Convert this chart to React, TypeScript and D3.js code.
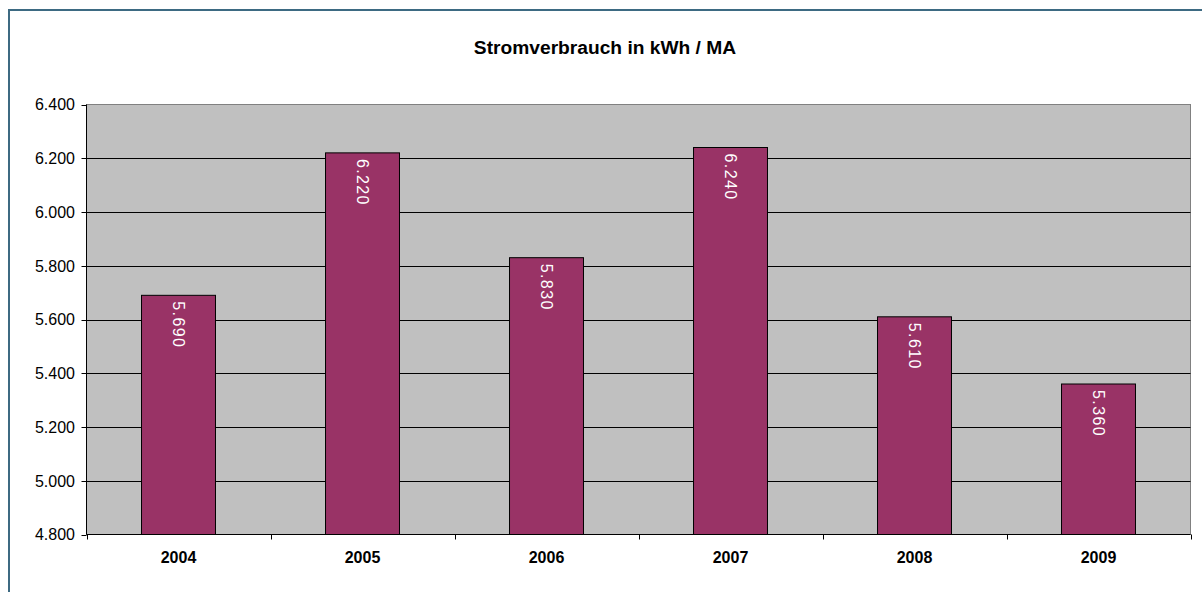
import React from "react";
import * as d3 from "d3";

const years = ["2004", "2005", "2006", "2007", "2008", "2009"];
const values = [5690, 6220, 5830, 6240, 5610, 5360];
const yTicks = [4800, 5000, 5200, 5400, 5600, 5800, 6000, 6200, 6400];
const title = "Stromverbrauch in kWh / MA";

const W = 1202;
const H = 592;
const left = 86.5;
const right = 1190.5;
const top = 104.5;
const bottom = 534.5;
const FONT = "Arial, 'Liberation Sans', sans-serif";

const fmt = (v: number) => {
  const s = String(v);
  return s.slice(0, s.length - 3) + "." + s.slice(s.length - 3);
};

export default function App() {
  const x = d3.scaleBand<string>().domain(years).range([left, right]).paddingInner(0.598).paddingOuter(0.299);
  const y = d3.scaleLinear().domain([4800, 6400]).range([bottom, top]);
  const step = x.step();
  const bounds = d3.range(years.length + 1).map((i) => left + i * step);

  return (
    <svg width={W} height={H} style={{ position: "absolute", left: 0, top: 0, background: "#fff" }}>
      <rect x={9} y={10} width={1300} height={700} fill="#fff" stroke="#3d6a82" strokeWidth={2} />
      <text x={605} y={54} textAnchor="middle" fontFamily={FONT} fontWeight="bold" fontSize={19.2} fill="#000">
        {title}
      </text>
      <rect x={left} y={top} width={right - left} height={bottom - top} fill="#c0c0c0" stroke="#808080" strokeWidth={1} />
      {yTicks.slice(1, -1).map((t) => (
        <line key={t} x1={left} x2={right} y1={Math.round(y(t)) + 0.5} y2={Math.round(y(t)) + 0.5} stroke="#000" strokeWidth={1} />
      ))}
      {years.map((yr, i) => {
        const bx = x(yr)!;
        const by = y(values[i]);
        return (
          <g key={yr}>
            <rect x={bx} y={by} width={x.bandwidth()} height={bottom - by} fill="#993366" stroke="#000" strokeWidth={1} />
            <text
              transform={`translate(${bx + x.bandwidth() / 2},${by + 6}) rotate(90)`}
              dy="0.36em"
              textAnchor="start"
              fontFamily={FONT}
              fontSize={16}
              letterSpacing={1.4}
              fill="#fff"
            >
              {fmt(values[i])}
            </text>
          </g>
        );
      })}
      {/* y axis */}
      <line x1={left} x2={left} y1={top} y2={bottom} stroke="#000" />
      {yTicks.map((t) => (
        <g key={t}>
          <line x1={left - 5} x2={left} y1={Math.round(y(t)) + 0.5} y2={Math.round(y(t)) + 0.5} stroke="#000" />
          <text x={75} y={y(t)} dy="0.36em" textAnchor="end" fontFamily={FONT} fontSize={16} fill="#000">
            {fmt(t)}
          </text>
        </g>
      ))}
      {/* x axis */}
      <line x1={left} x2={right} y1={bottom} y2={bottom} stroke="#000" />
      {bounds.map((b, i) => (
        <line key={i} x1={Math.round(b) + 0.5} x2={Math.round(b) + 0.5} y1={bottom} y2={bottom + 5} stroke="#000" />
      ))}
      {years.map((yr) => (
        <text key={yr} x={x(yr)! + x.bandwidth() / 2} y={563} textAnchor="middle" fontFamily={FONT} fontWeight="bold" fontSize={16} fill="#000">
          {yr}
        </text>
      ))}
    </svg>
  );
}
